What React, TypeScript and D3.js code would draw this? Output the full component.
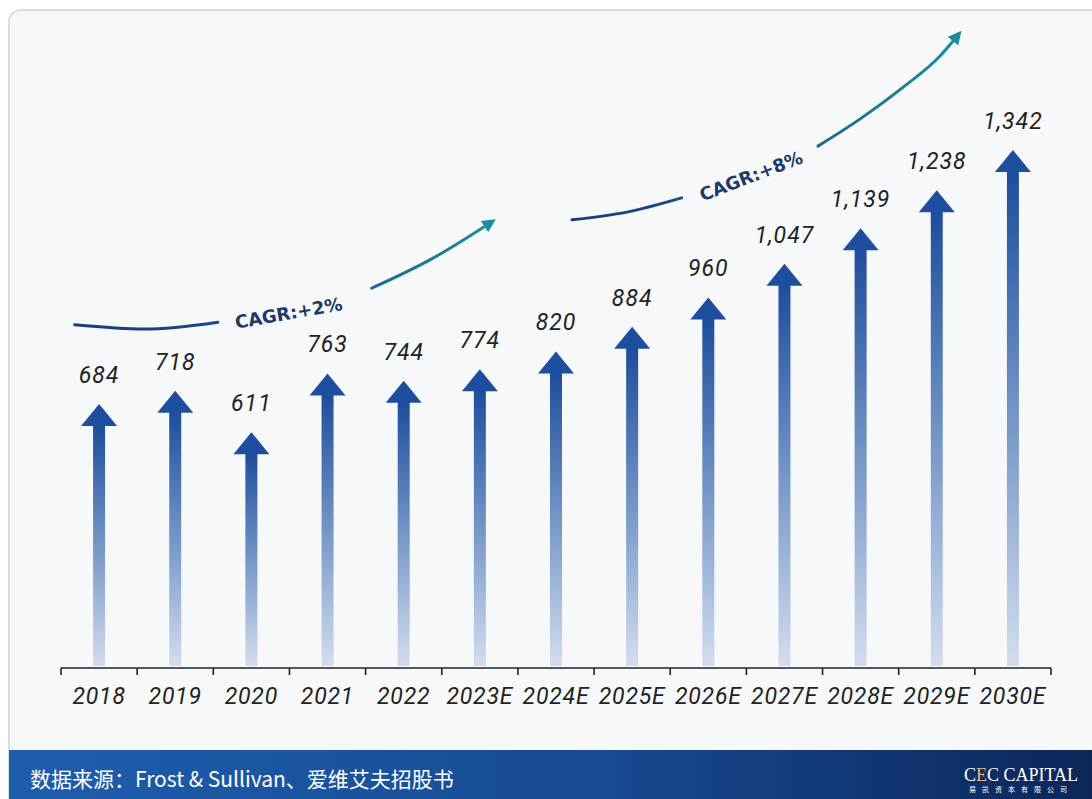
import React, { useEffect } from "react";
import * as d3 from "d3";

const categories = ["2018", "2019", "2020", "2021", "2022", "2023E", "2024E", "2025E", "2026E", "2027E", "2028E", "2029E", "2030E"];
const values = [684, 718, 611, 763, 744, 774, 820, 884, 960, 1047, 1139, 1238, 1342];

// CAGR annotations, in data coordinates: [category index (fractional), value]
const cagr1Left: [number, number][] = [[-0.32, 889], [0.6, 878], [1.56, 896]];
const cagr1Right: [number, number][] = [[3.58, 984], [4.35, 1058], [5.15, 1155]];
const cagr1Label = { text: "CAGR:+2%", at: [2.49, 920] as [number, number], angle: -10 };
const cagr2Left: [number, number][] = [[6.21, 1161], [6.93, 1181], [7.65, 1218]];
const cagr2Right: [number, number][] = [[9.44, 1352], [9.99, 1422], [10.58, 1508], [11.04, 1585], [11.28, 1640]];
const cagr2Label = { text: "CAGR:+8%", at: [8.56, 1275] as [number, number], angle: -21 };

const sourceText = "数据来源：Frost & Sullivan、爱维艾夫招股书";
const logoText = "CEC CAPITAL";
const logoSub = "易凯资本有限公司";

const W = 1092;
const H = 799;

export default function App() {
  useEffect(() => {
    document.body.style.margin = "0";
    document.body.style.background = "#ffffff";
  }, []);

  const x = d3.scaleBand<string>().domain(categories).range([61, 1051]).padding(0);
  const xi = d3.scaleLinear().domain([-0.5, categories.length - 0.5]).range([61, 1051]);
  const y = d3.scaleLinear().domain([0, 1342]).range([668, 150]);
  const fmt = d3.format(",");
  const line = d3
    .line<[number, number]>()
    .x((d) => xi(d[0]))
    .y((d) => y(d[1]))
    .curve(d3.curveMonotoneX);

  const headW = 36;
  const headH = 22;
  const shaftW = 12;
  const base = y(0);

  const curveFont = "'DejaVu Sans', Verdana, sans-serif";
  const numFont = "Roboto, 'Open Sans', sans-serif";

  return (
    <svg width={W} height={H} style={{ position: "absolute", left: 0, top: 0, display: "block" }}>
      <defs>
        <linearGradient id="shaft" x1="0" y1="0" x2="0" y2="1">
          <stop offset="0%" stopColor="#1d4d9c" />
          <stop offset="55%" stopColor="#7e9dcb" />
          <stop offset="100%" stopColor="#d3ddee" />
        </linearGradient>
        <linearGradient id="c1" gradientUnits="userSpaceOnUse" x1={xi(cagr1Left[0][0])} y1="0" x2={xi(cagr1Right[cagr1Right.length - 1][0])} y2="0">
          <stop offset="0%" stopColor="#163d78" />
          <stop offset="45%" stopColor="#1a4f86" />
          <stop offset="100%" stopColor="#1d8c9c" />
        </linearGradient>
        <linearGradient id="c2" gradientUnits="userSpaceOnUse" x1={xi(cagr2Left[0][0])} y1="0" x2={xi(cagr2Right[cagr2Right.length - 1][0])} y2="0">
          <stop offset="0%" stopColor="#163d78" />
          <stop offset="45%" stopColor="#1a5a8c" />
          <stop offset="100%" stopColor="#1d8c9c" />
        </linearGradient>
        <marker id="tip" viewBox="0 0 10 10" refX="6" refY="5" markerWidth="4.5" markerHeight="4.5" orient="auto" markerUnits="strokeWidth">
          <path d="M0,0 L10,5 L0,10 Z" fill="#1d8c9c" />
        </marker>
        <linearGradient id="footer" x1="0" y1="0" x2="1" y2="0">
          <stop offset="0%" stopColor="#1e5ead" />
          <stop offset="55%" stopColor="#174a92" />
          <stop offset="100%" stopColor="#0c265a" />
        </linearGradient>
      </defs>

      <rect x={0} y={0} width={W} height={H} fill="#ffffff" />
      <rect x={9} y={10} width={W + 20} height={H} rx={12} ry={12} fill="#f7f8fa" stroke="#dcdcdc" strokeWidth={2} />

      {/* Arrows */}
      {categories.map((c, i) => {
        const cx = (x(c) as number) + x.bandwidth() / 2;
        const tip = y(values[i]);
        return (
          <g key={c}>
            <rect x={cx - shaftW / 2} y={tip + headH - 1} width={shaftW} height={base - 2 - (tip + headH - 1)} fill="url(#shaft)" />
            <path d={`M${cx},${tip} L${cx + headW / 2},${tip + headH} L${cx - headW / 2},${tip + headH} Z`} fill="#1e4e9e" />
            <text x={cx} y={tip - 21} textAnchor="middle" fontFamily={numFont} fontStyle="italic" fontSize={23} letterSpacing={1} fill="#222">
              {fmt(values[i])}
            </text>
          </g>
        );
      })}

      {/* Axis */}
      <line x1={61} x2={1051} y1={base} y2={base} stroke="#222" strokeWidth={1.6} />
      {[...categories.map((c) => x(c) as number), 1051].map((tx, i) => (
        <line key={i} x1={tx} x2={tx} y1={base} y2={base + 7} stroke="#222" strokeWidth={1.6} />
      ))}
      {categories.map((c) => (
        <text key={c} x={(x(c) as number) + x.bandwidth() / 2} y={704} textAnchor="middle" fontFamily={numFont} fontStyle="italic" fontSize={23} letterSpacing={0.8} fill="#222">
          {c}
        </text>
      ))}

      {/* CAGR curves */}
      <path d={line(cagr1Left) || ""} fill="none" stroke="url(#c1)" strokeWidth={3} strokeLinecap="round" />
      <path d={line(cagr1Right) || ""} fill="none" stroke="url(#c1)" strokeWidth={3} strokeLinecap="round" markerEnd="url(#tip)" />
      <text
        transform={`translate(${xi(cagr1Label.at[0])},${y(cagr1Label.at[1])}) rotate(${cagr1Label.angle})`}
        textAnchor="middle"
        dominantBaseline="central"
        fontFamily={curveFont}
        fontWeight="bold"
        fontSize={18}
        fill="#1b3a68"
      >
        {cagr1Label.text}
      </text>
      <path d={line(cagr2Left) || ""} fill="none" stroke="url(#c2)" strokeWidth={3} strokeLinecap="round" />
      <path d={line(cagr2Right) || ""} fill="none" stroke="url(#c2)" strokeWidth={3} strokeLinecap="round" markerEnd="url(#tip)" />
      <text
        transform={`translate(${xi(cagr2Label.at[0])},${y(cagr2Label.at[1])}) rotate(${cagr2Label.angle})`}
        textAnchor="middle"
        dominantBaseline="central"
        fontFamily={curveFont}
        fontWeight="bold"
        fontSize={18}
        fill="#1b3a68"
      >
        {cagr2Label.text}
      </text>

      {/* Footer */}
      <rect x={9} y={750} width={W - 9} height={H - 750} fill="url(#footer)" />
      <text x={30} y={787} fontFamily="'Noto Sans CJK SC', 'Noto Sans', sans-serif" fontSize={21} fill="#ffffff">
        {sourceText}
      </text>
      <text x={1021} y={781} textAnchor="middle" fontFamily="'Liberation Serif', serif" fontSize={18} fill="#ffffff">
        <tspan>C</tspan>
        <tspan fill="#f0b37a">E</tspan>
        <tspan>{logoText.slice(2)}</tspan>
      </text>
      <text x={1021} y={792} textAnchor="middle" fontFamily="'Noto Sans CJK SC', sans-serif" fontSize={7} letterSpacing={6} fill="#ffffff">
        {logoSub}
      </text>
    </svg>
  );
}
